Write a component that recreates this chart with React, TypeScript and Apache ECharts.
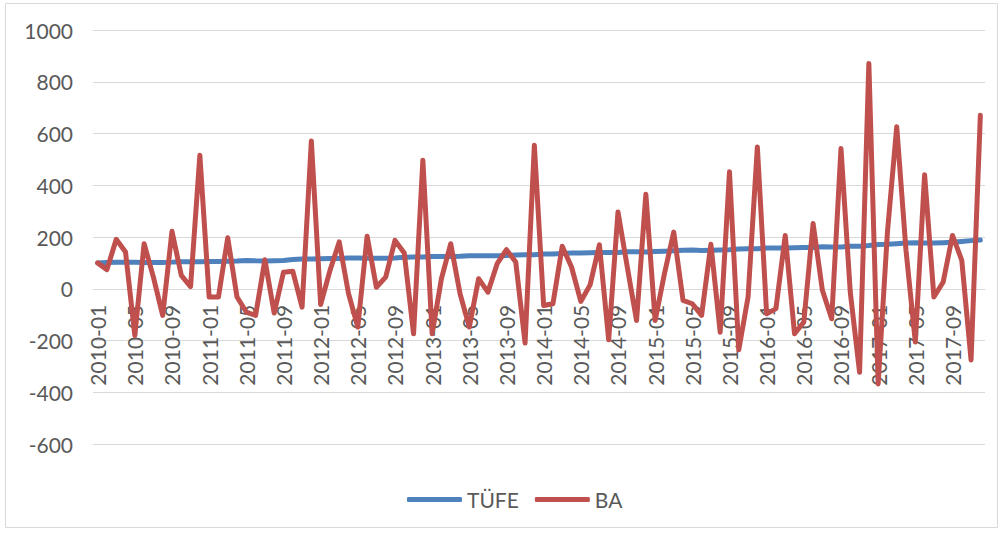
import React, { useEffect, useRef } from "react";
import * as echarts from "echarts";

const years = [2010, 2011, 2012, 2013, 2014, 2015, 2016, 2017];
const categories: string[] = [];
years.forEach((y) => {
  for (let m = 1; m <= 12; m++) categories.push(`${y}-${m < 10 ? "0" + m : m}`);
});

const tufe = [
  100.0, 101.4, 102.0, 102.6, 102.3, 101.7, 101.2, 101.8, 102.9, 104.8, 104.8, 104.5,
  104.9, 105.7, 106.1, 107.0, 109.6, 108.0, 107.6, 108.4, 109.2, 112.8, 114.7, 115.4,
  116.0, 116.7, 117.2, 119.0, 118.4, 118.1, 117.6, 118.0, 119.2, 121.6, 122.3, 122.5,
  124.5, 124.9, 125.0, 125.7, 127.5, 127.8, 127.6, 127.4, 128.5, 130.9, 131.7, 131.6,
  134.2, 134.7, 136.3, 138.1, 138.6, 139.1, 139.7, 139.8, 140.0, 142.7, 142.9, 142.3,
  143.9, 144.9, 146.6, 149.0, 149.9, 147.8, 149.1, 149.9, 150.4, 153.8, 154.3, 154.8,
  157.6, 157.4, 157.3, 158.5, 159.4, 159.6, 161.9, 161.5, 161.6, 163.8, 164.6, 167.4,
  171.2, 172.2, 174.3, 176.5, 177.3, 176.8, 176.8, 178.2, 179.4, 182.8, 186.0, 188.1,
];

const ba = [
  100, 74, 191, 142, -181, 174, 45, -103, 222, 52, 8, 516,
  -32, -32, 197, -32, -90, -103, 112, -94, 64, 68, -71, 571,
  -61, 70, 181, -19, -148, 203, 6, 45, 187, 138, -174, 497,
  -174, 39, 174, -19, -148, 39, -13, 97, 151, 103, -210, 555,
  -65, -58, 164, 84, -49, 15, 170, -197, 297, 84, -123, 365,
  -123, 58, 219, -45, -58, -103, 172, -168, 452, -236, -32, 548,
  -97, -77, 206, -174, -129, 252, -6, -116, 542, -13, -323, 871,
  -368, 219, 626, 148, -206, 441, -32, 26, 206, 110, -275, 671,
];

const seriesNames = ["TÜFE", "BA"];
const Y_MIN = -600;
const Y_MAX = 1000;
const Y_STEP = 200;
const FONT = "Lato, 'Liberation Sans', sans-serif";
const TEXT = "#595959";
const GRID = "#D9D9D9";

const GRID_TOP = 30;
const GRID_BOTTOM = 95;
const CHART_H = 539;

export default function App() {
  const ref = useRef<HTMLDivElement>(null);
  useEffect(() => {
    if (!ref.current) return;
    const chart = echarts.init(ref.current, undefined, { renderer: "svg" });
    const plotH = CHART_H - GRID_TOP - GRID_BOTTOM;
    // shift x axis from bottom of the plot up to the value 0 line
    const zeroOffset = -((0 - Y_MIN) / (Y_MAX - Y_MIN)) * plotH;
    chart.setOption({
      animation: false,
      backgroundColor: "#ffffff",
      textStyle: { fontFamily: FONT },
      graphic: [
        {
          type: "rect",
          shape: { x: 5.5, y: 3.5, width: 992, height: 524 },
          style: { fill: "none", stroke: GRID, lineWidth: 1 },
          silent: true,
        },
      ],
      grid: { left: 93, right: 19, top: GRID_TOP, bottom: GRID_BOTTOM, containLabel: false },
      legend: {
        data: seriesNames,
        left: 402,
        top: 484,
        icon: "roundRect",
        itemWidth: 55,
        itemHeight: 5,
        itemGap: 16,
        textStyle: { color: TEXT, fontSize: 21, fontFamily: FONT },
      },
      xAxis: {
        type: "category",
        data: categories,
        boundaryGap: true,
        offset: zeroOffset,
        axisLine: { show: true, onZero: false, lineStyle: { color: GRID, width: 1 } },
        axisTick: { show: false },
        axisLabel: {
          interval: 3,
          rotate: 90,
          margin: 16,
          color: TEXT,
          fontSize: 21,
          fontFamily: FONT,
        },
        splitLine: { show: false },
      },
      yAxis: {
        type: "value",
        min: Y_MIN,
        max: Y_MAX,
        interval: Y_STEP,
        axisLine: { show: false },
        axisTick: { show: false },
        axisLabel: {
          color: TEXT,
          fontSize: 21,
          margin: 20,
          fontFamily: FONT,
          formatter: (v: number) => String(v),
        },
        splitLine: { lineStyle: { color: GRID, width: 1 } },
      },
      series: [
        {
          name: seriesNames[0],
          type: "line",
          data: tufe,
          symbol: "none",
          color: "#4F81BD",
          lineStyle: { width: 5, color: "#4F81BD", cap: "round", join: "round" },
        },
        {
          name: seriesNames[1],
          type: "line",
          data: ba,
          symbol: "none",
          color: "#C0504D",
          lineStyle: { width: 5, color: "#C0504D", cap: "round", join: "round" },
        },
      ],
    });
    return () => chart.dispose();
  }, []);
  return (
    <div
      ref={ref}
      style={{ position: "fixed", left: 0, top: 0, width: 1004, height: 539 }}
    />
  );
}
